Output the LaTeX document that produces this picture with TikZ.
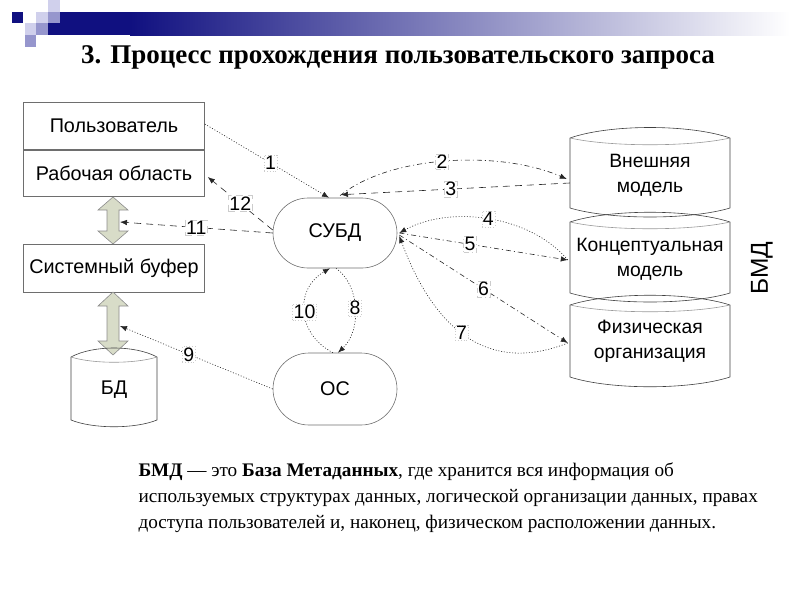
\documentclass[tikz,border=0pt]{standalone}
\usepackage{fontspec}
\setmainfont{Liberation Serif}
\setsansfont{Liberation Sans}
\usetikzlibrary{arrows.meta,calc}
\definecolor{navyc}{RGB}{16,16,128}
\definecolor{lightsq}{RGB}{208,208,236}
\definecolor{medsq}{RGB}{150,150,205}
\definecolor{arrfill}{RGB}{216,220,200}
\definecolor{shapeln}{RGB}{110,110,110}
\tikzset{
  boxtext/.style={font=\sffamily\fontsize{19.8}{25}\selectfont},
  lbox/.style={boxtext, draw=shapeln, line width=0.6pt, minimum width=181pt},
  stad/.style={boxtext, draw=shapeln, line width=0.6pt, minimum width=124pt, minimum height=70pt, rounded corners=35pt},
  cyltext/.style={font=\sffamily\fontsize{19.3}{25}\selectfont, align=center, minimum width=160pt, minimum height=70pt},
  shapeline/.style={draw=black!75, line width=0.6pt},
  lab/.style={fill=white, draw=black!20, line width=0.4pt, inner sep=1pt, font=\sffamily\fontsize{19.5}{19.5}\selectfont},
  arr/.style={-{Latex[length=7pt,width=5.5pt]}, draw=black!85, line width=0.6pt},
  dotl/.style={arr, dash pattern=on 1pt off 1.8pt},
  dashl/.style={arr, dash pattern=on 7pt off 5pt},
  dashdotl/.style={arr, dash pattern=on 5pt off 3pt on 1pt off 3pt},
  blockarr/.style={fill=arrfill, draw=black!45, line width=0.6pt}
}
\begin{document}
\begin{tikzpicture}[x=1pt,y=-1pt]
\useasboundingbox (0,0) rectangle (800,600);
% header decoration
\fill[navyc] (48,12) rectangle (131,35);
\shade[left color=navyc, right color=white] (130,12) rectangle (790,35);
\fill[navyc] (12,12) rectangle (23,23);
\fill[lightsq] (48,0) rectangle (60,12);
\fill[lightsq] (36,12) rectangle (48,23);
\fill[medsq] (48,12) rectangle (60,23);
\fill[lightsq] (25,23) rectangle (36,35);
\fill[medsq] (36,23) rectangle (48,35);
\fill[medsq] (25,35) rectangle (36,47);
% title
\node[font=\bfseries\fontsize{27}{30}\selectfont] (title) at (398,57) {3. Процесс прохождения пользовательского запроса};

% left boxes
\node[lbox, minimum height=47pt] (usr) at (114,126) {Пользователь};
\node[lbox, minimum height=46pt] (ws) at (114,173) {Рабочая область};
\node[lbox, minimum height=48pt] (buf) at (114,268) {Системный буфер};

% block double arrows
\draw[blockarr] (113,197) -- (128,210) -- (119,210) -- (119,231) -- (128,231) -- (113,244) -- (98,231) -- (107,231) -- (107,210) -- (98,210) -- cycle;
\draw[blockarr] (113,292) -- (128,306) -- (119,306) -- (119,341) -- (128,341) -- (113,355) -- (98,341) -- (107,341) -- (107,306) -- (98,306) -- cycle;
\coordinate (c11) at (120,222);
\coordinate (c9) at (120,326);

% DB cylinder
\draw[shapeline] (71,357) .. controls (93,345) and (135,345) .. (157,357) -- (157,420) .. controls (135,429) and (93,429) .. (71,420) -- cycle;
\draw[shapeline, draw=black!40] (71,357) .. controls (93,364) and (135,364) .. (157,357);
\node[boxtext] (bd) at (114,390) {БД};

% stadiums
\node[stad] (subd) at (335,233) {СУБД};
\node[stad, minimum height=72pt, rounded corners=36pt] (os) at (335,389) {ОС};

% right stacked shapes
\draw[shapeline] (570,138) .. controls (610,124) and (690,124) .. (730,138) -- (730,208) .. controls (690,220) and (610,220) .. (570,208) -- cycle;
\draw[shapeline, draw=black!40] (570,138) .. controls (610,147) and (690,147) .. (730,138);
\draw[shapeline] (570,222) .. controls (610,209) and (690,209) .. (730,222) -- (730,293) .. controls (690,305) and (610,305) .. (570,293) -- cycle;
\draw[shapeline, draw=black!40] (570,222) .. controls (610,231) and (690,231) .. (730,222);
\draw[shapeline] (570,305) .. controls (610,292) and (690,292) .. (730,305) -- (730,377) .. controls (690,390) and (610,390) .. (570,377) -- cycle;
\draw[shapeline, draw=black!40] (570,305) .. controls (610,314) and (690,314) .. (730,305);
\node[cyltext] (ext) at (650,175) {Внешняя\\модель};
\node[cyltext] (con) at (650,259) {Концептуальная\\модель};
\node[cyltext] (phy) at (650,341) {Физическая\\организация};
\node[rotate=90, font=\sffamily\fontsize{24.5}{24.5}\selectfont] (bmd) at (762,268) {БМД};

% connectors
\draw[dotl] ($(usr.east)+(0,-2)$) -- node[lab, pos=0.53] {1} ($(subd.north)+(-6,0)$);
\draw[dashdotl] ($(subd.north)+(5,-2)$) .. controls (390,155) and (500,150) .. node[lab, pos=0.48] {2} ($(ext.west)+(-3,4)$);
\draw[dashl] ($(ext.west)+(0,8)$) -- node[lab, pos=0.52] {3} ($(subd.north)+(6,-3)$);
\draw[dotl] ($(con.west)+(-2,1)$) .. controls (530,215) and (450,205) .. node[lab, pos=0.5] {4} ($(subd.east)+(2,0)$);
\draw[dashdotl] ($(subd.east)+(2,0)$) -- node[lab, pos=0.42] {5} ($(con.west)+(-2,1)$);
\draw[dashdotl] ($(subd.east)+(2,2)$) -- node[lab, pos=0.5] {6} ($(phy.west)+(-2,2)$);
\draw[dotl] ($(phy.west)+(-2,2)$) .. controls (500,370) and (440,345) .. node[lab, pos=0.57] {7} ($(subd.east)+(2,3)$);
\draw[dotl] ($(subd.south)+(1,0)$) .. controls (360,285) and (362,330) .. node[lab, pos=0.5] {8} ($(os.north)+(3,0)$);
\draw[dotl] ($(os.north)+(-2,0)$) .. controls (298,335) and (293,290) .. node[lab, pos=0.5] {10} ($(subd.south)+(-5,0)$);
\draw[dotl] (os.west) -- node[lab, pos=0.55] {9} (c9);
\draw[dashl] (subd.west) -- node[lab, pos=0.5] {11} (c11);
\draw[dashl] ($(subd.west)+(0,-3)$) -- node[lab, pos=0.5] {12} ($(ws.east)+(3,4)$);

% bottom text
\node[anchor=base west, font=\fontsize{19.2}{22}\selectfont] (t1) at (135,476) {\textbf{БМД} — это \textbf{База Метаданных}, где хранится вся информация об};
\node[anchor=base west, font=\fontsize{19.2}{22}\selectfont] (t2) at (135,502) {используемых структурах данных, логической организации данных, правах};
\node[anchor=base west, font=\fontsize{19.2}{22}\selectfont] (t3) at (135,528) {доступа пользователей и, наконец, физическом расположении данных.};
\end{tikzpicture}
\end{document}
